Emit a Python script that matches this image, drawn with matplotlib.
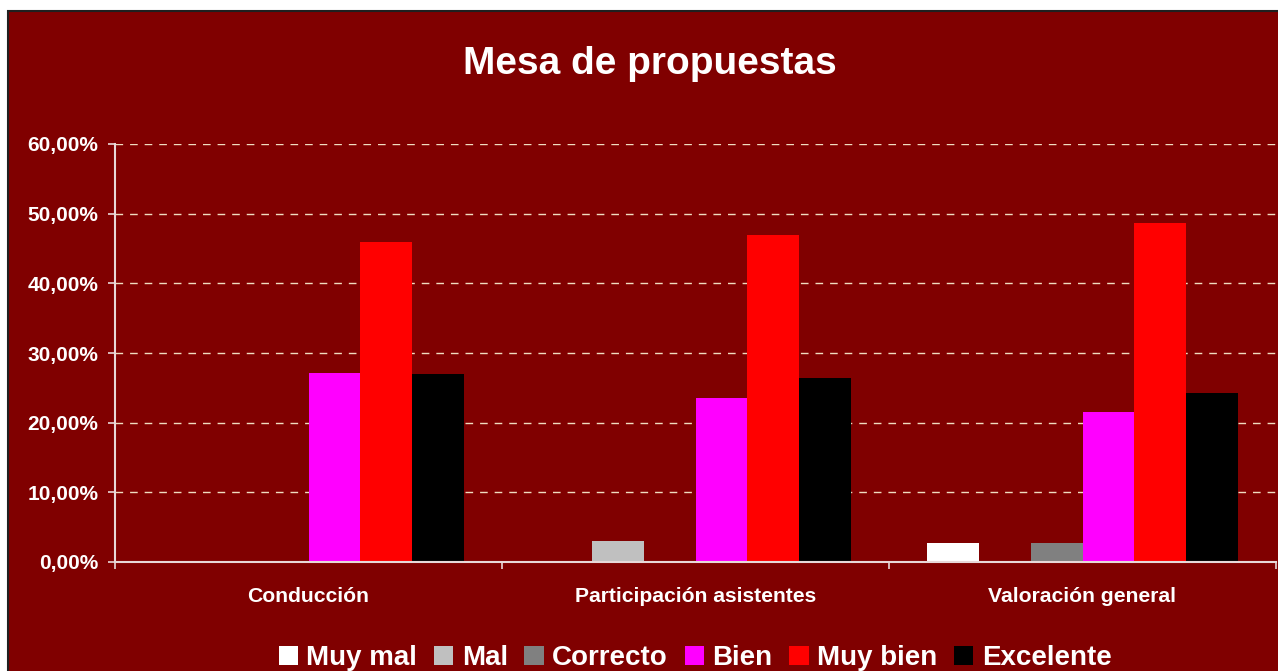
import numpy as np
from matplotlib import pyplot as plt
from matplotlib.patches import Rectangle

categories = ['Conducción', 'Participación asistentes', 'Valoración general']
series_names = ['Muy mal', 'Mal', 'Correcto', 'Bien', 'Muy bien', 'Excelente']
muy_mal = [0.0, 0.0, 2.7]
mal = [0.0, 3.0, 0.0]
correcto = [0.0, 0.0, 2.7]
bien = [27.1, 23.5, 21.6]
muy_bien = [46.0, 47.0, 48.6]
excelente = [27.0, 26.4, 24.3]
yticks = [0, 10, 20, 30, 40, 50, 60]

series = [muy_mal, mal, correcto, bien, muy_bien, excelente]
colors = ['#ffffff', '#c0c0c0', '#808080', '#ff00ff', '#ff0000', '#000000']
BG = '#800000'
FG = '#ffffff'

plt.rcParams['font.family'] = ['Liberation Sans', 'DejaVu Sans']
plt.rcParams['font.weight'] = 'bold'

W, H = 1278, 671
fig = plt.figure(figsize=(W / 100, H / 100), dpi=100, facecolor='white')
fig.patches.append(Rectangle((8 / W, -0.02), 1.1, 1 - 11 / H + 0.02, transform=fig.transFigure,
                             facecolor=BG, edgecolor='#202020', linewidth=1.5, zorder=-5))

ax = fig.add_axes([115 / W, (H - 562) / H, (1276 - 115) / W, (562 - 144) / H])
ax.set_facecolor('none')

x = np.arange(len(categories))
width = 0.134
for k, (name, vals, col) in enumerate(zip(series_names, series, colors)):
    ax.bar(x + (k - 2.5) * width, vals, width=width, color=col, label=name, zorder=3,
           linewidth=0)

ax.set_xlim(-0.5, len(categories) - 0.5)
ax.set_ylim(0, 60)
ax.set_yticks(yticks)
ax.set_yticklabels(['%d,00%%' % v for v in yticks])
ax.set_xticks(np.arange(len(categories) + 1) - 0.5)
ax.set_xticklabels([])
ax.set_xticks(x, minor=True)
ax.set_xticklabels(categories, minor=True)
ax.tick_params(axis='x', which='minor', length=0, pad=18, labelsize=15.2, labelcolor=FG)
ax.tick_params(axis='x', which='major', length=5, width=1.2, color='#e8d8d8')
ax.tick_params(axis='y', length=5, width=1.2, color='#e8d8d8', pad=7, labelsize=15,
               labelcolor=FG)

for side in ['top', 'right']:
    ax.spines[side].set_visible(False)
for side in ['left', 'bottom']:
    ax.spines[side].set_color('#e8d8d8')
    ax.spines[side].set_linewidth(1.5)
    ax.spines[side].set_zorder(4)

ax.yaxis.grid(True, color='#f0dcc0', linewidth=1, dashes=(5.5, 5), zorder=1)
ax.set_axisbelow(True)

fig.text(650 / W, 1 - 64 / H, 'Mesa de propuestas', ha='center', va='center',
         fontsize=28, fontweight='bold', color=FG)

handles, labels = ax.get_legend_handles_labels()
fig.legend(handles, labels, loc='center', bbox_to_anchor=(695 / W, 1 - 658 / H), ncol=6,
           frameon=False, fontsize=20, handlelength=0.7, handleheight=0.7,
           handletextpad=0.3, columnspacing=0.6, labelcolor=FG)

fig.savefig('out.png', dpi=100, facecolor=fig.get_facecolor())
